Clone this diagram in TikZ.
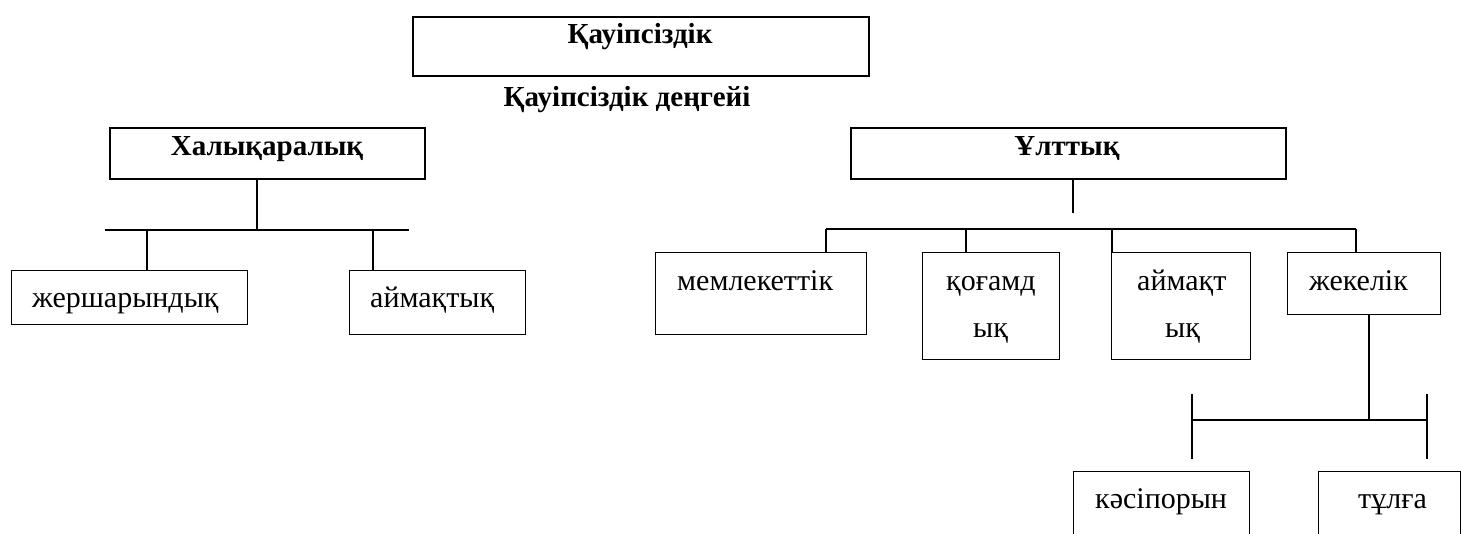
\documentclass[tikz,border=0pt]{standalone}
\usepackage{fontspec}
\setmainfont{Liberation Serif}
\begin{document}
\begin{tikzpicture}[x=1pt,y=-1pt,
  bigbox/.style={draw,line width=2.2pt,inner sep=0pt,anchor=north west},
  smallbox/.style={draw,line width=1.3pt,inner sep=0pt,anchor=north west},
  conn/.style={line width=1.3pt},
  ttl/.style={font=\fontsize{29}{34}\selectfont\bfseries,inner sep=0pt,anchor=base},
  lbl/.style={font=\fontsize{30}{36}\selectfont,inner sep=0pt,anchor=base west}]
\clip (0,0) rectangle (1461,533);
\fill[white] (0,0) rectangle (1461,533);
% title
\node[bigbox,minimum width=456pt,minimum height=59pt] (top) at (412,16) {};
\node[ttl] (topt) at (640,43) {Қауіпсіздік};
\node[ttl] (sub) at (627,106) {Қауіпсіздік деңгейі};
% level boxes
\node[bigbox,minimum width=315pt,minimum height=51pt] (hal) at (109,127) {};
\node[ttl] (halt) at (267,155) {Халықаралық};
\node[bigbox,minimum width=435pt,minimum height=51pt] (ult) at (850,127) {};
\node[ttl] (ultt) at (1067,155) {Ұлттық};
% left subtree
\node[smallbox,minimum width=236pt,minimum height=54pt] (zher) at (11,270) {};
\node[lbl] (zhert) at (32,307) {жершарындық};
\node[smallbox,minimum width=176pt,minimum height=64pt] (aimL) at (349,270) {};
\node[lbl] (aimLt) at (370,307) {аймақтық};
\coordinate (lj) at (257,230);
\coordinate (lbw) at (105,230);
\coordinate (lbe) at (409,230);
\coordinate (ld1) at (147,230);
\coordinate (ld2) at (373,230);
\coordinate (dsa) at (162,230);
\coordinate (dsb) at (173,230);
\draw[conn] (hal.south -| lj) -- (lj);
\draw[conn] (lbw) -- (lbe);
\draw[line width=2.4pt] (dsa) -- (dsb);
\draw[conn] (ld1) -- (ld1 |- zher.north);
\draw[conn] (ld2) -- (ld2 |- aimL.north);
% right subtree
\node[smallbox,minimum width=211pt,minimum height=82pt] (mem) at (655,252) {};
\node[lbl] (memt) at (677,290) {мемлекеттік};
\node[smallbox,minimum width=137pt,minimum height=107pt] (qog) at (922,252) {};
\node[lbl] (qogt1) at (946,290) {қоғамд};
\node[lbl] (qogt2) at (973,337) {ық};
\node[smallbox,minimum width=139pt,minimum height=107pt] (aimR) at (1111,252) {};
\node[lbl] (aimRt1) at (1137,290) {аймақт};
\node[lbl] (aimRt2) at (1165,337) {ық};
\node[smallbox,minimum width=153pt,minimum height=62pt] (zhek) at (1287,252) {};
\node[lbl] (zhekt) at (1309,290) {жекелік};
\coordinate (rj) at (1073,213);
\coordinate (rb1) at (826,229);
\coordinate (rb2) at (966,229);
\coordinate (rb3) at (1112,229);
\coordinate (rb4) at (1356,229);
\draw[conn] (ult.south -| rj) -- (rj);
\draw[conn] (rb1) -- (rb4);
\draw[conn] (rb1) -- (rb1 |- mem.north);
\draw[conn] (rb2) -- (rb2 |- qog.north);
\draw[conn] (rb3) -- (rb3 |- aimR.north);
\draw[conn] (rb4) -- (rb4 |- zhek.north);
% bottom subtree
\node[smallbox,minimum width=176pt,minimum height=80pt] (kas) at (1073,471) {};
\node[lbl] (kast) at (1095,508) {кәсіпорын};
\node[smallbox,minimum width=142pt,minimum height=80pt] (tul) at (1318,471) {};
\node[lbl] (tult) at (1358,508) {тұлға};
\coordinate (bj) at (1369,420);
\coordinate (bw) at (1192,420);
\coordinate (be) at (1427,420);
\coordinate (bwt) at (1192,394);
\coordinate (bwb) at (1192,459);
\coordinate (bet) at (1427,394);
\coordinate (beb) at (1427,459);
\draw[conn] (zhek.south -| bj) -- (bj);
\draw[conn] (bw) -- (be);
\draw[conn] (bwt) -- (bwb);
\draw[conn] (bet) -- (beb);
\end{tikzpicture}
\end{document}
